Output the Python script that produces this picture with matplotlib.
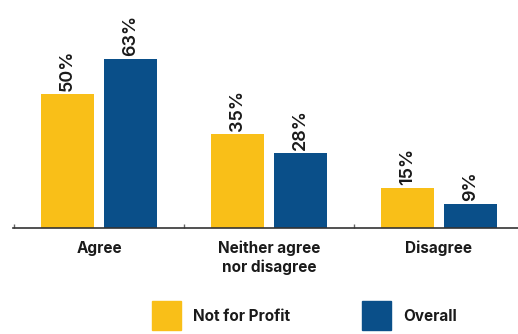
import numpy as np
import matplotlib.pyplot as plt
from matplotlib.patches import Patch

categories = ["Agree", "Neither agree\nnor disagree", "Disagree"]
not_for_profit = [50, 35, 15]
overall = [63, 28, 9]
series_names = ["Not for Profit", "Overall"]

yellow = "#F9BF18"
blue = "#0A4F89"
text_color = "#1a1a1a"

plt.rcParams['font.family'] = ['Inter', 'DejaVu Sans']

fig = plt.figure(figsize=(5.18, 3.34), dpi=100)
ax = fig.add_axes([13 / 518, 106 / 334, 505 / 518, 228 / 334])

x = np.arange(len(categories))
w = 0.312
off = 0.185

b1 = ax.bar(x - off, not_for_profit, w, color=yellow)
b2 = ax.bar(x + off, overall, w, color=blue)

for bars, vals in [(b1, not_for_profit), (b2, overall)]:
    for bar, v in zip(bars, vals):
        ax.annotate(f"{v}%", (bar.get_x() + bar.get_width() / 2, v),
                    xytext=(0, 2), textcoords="offset points",
                    rotation=90, ha="center", va="bottom",
                    fontsize=13, fontweight="semibold", color=text_color)

ax.set_xlim(-0.506, 2.465)
ax.set_ylim(0, 84.8)

for s in ["top", "right", "left"]:
    ax.spines[s].set_visible(False)
ax.spines["bottom"].set_color("#333333")
ax.spines["bottom"].set_linewidth(1.2)
ax.set_yticks([])

ax.set_xticks(x)
ax.set_xticklabels(categories, fontsize=11, fontweight="bold",
                   color=text_color, linespacing=1.25)
ax.tick_params(axis="x", which="major", length=0, pad=9)
ax.set_xticks([-0.5, 0.5, 1.5], minor=True)
ax.tick_params(axis="x", which="minor", direction="in", length=3,
               width=1, color="#666666")

handles = [Patch(color=yellow), Patch(color=blue)]
fig.legend(handles, series_names, loc="center", ncol=2,
           bbox_to_anchor=(0.588, 0.054), frameon=False,
           prop={"size": 11, "weight": "bold"},
           handlelength=1.9, handleheight=2.55, handletextpad=0.8,
           columnspacing=4.7, labelcolor=text_color)

fig.savefig("out.png", dpi=100)
